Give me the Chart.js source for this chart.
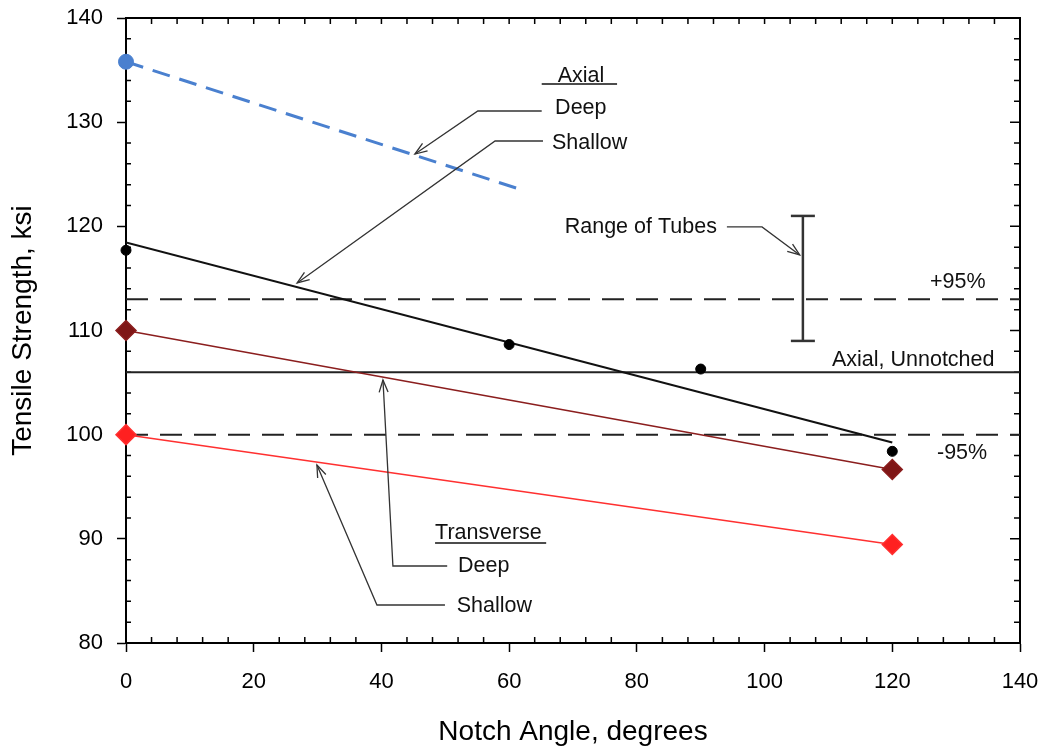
<!DOCTYPE html>
<html>
<head>
<meta charset="utf-8">
<script src="https://cdn.jsdelivr.net/npm/chart.js@4.4.1/dist/chart.umd.min.js"></script>
<style>
  html, body { margin: 0; padding: 0; background: #fff; }
  #wrap { width: 1047px; height: 750px; }
</style>
</head>
<body>
<div id="wrap"><canvas id="notchChart" width="1047" height="750"></canvas></div>
<script>
// Values (notch angle in degrees, strength in ksi).
const axialDeepAngle = [0];
const axialDeepStrength = [135.8];
const axialDeepFitAngle = [0, 62.5];
const axialDeepFitStrength = [135.8, 123.4];

const axialShallowAngle = [0, 60, 90, 120];
const axialShallowStrength = [117.7, 108.65, 106.3, 98.4];
const axialShallowFitAngle = [0, 120];
const axialShallowFitStrength = [118.45, 99.25];

const transDeepAngle = [0, 120];
const transDeepStrength = [110, 96.65];
const transShallowAngle = [0, 120];
const transShallowStrength = [100, 89.45];

const refSpan = [0, 140];
const upper95 = 113;
const unnotched = 106;
const lower95 = 100;

const tubeAngle = 106;
const tubeRange = [109, 121];

const xRange = [0, 140];
const yRange = [80, 140];
const xStep = 20;
const yStep = 10;

// Callout text and leader lines, in data units.
const notes = [
  { text: 'Axial', x: 71.25, y: 134.43, align: 'center', underline: [65.1, 76.9, 133.66] },
  { text: 'Deep', x: 67.2, y: 131.36, align: 'left' },
  { text: 'Shallow', x: 66.7, y: 128.0, align: 'left' },
  { text: 'Range of Tubes', x: 68.7, y: 119.94, align: 'left' },
  { text: '+95%', x: 125.9, y: 114.66, align: 'left' },
  { text: 'Axial, Unnotched', x: 110.55, y: 107.17, align: 'left' },
  { text: '-95%', x: 127.0, y: 98.24, align: 'left' },
  { text: 'Transverse', x: 48.4, y: 90.56, align: 'left', underline: [48.4, 65.8, 89.6] },
  { text: 'Deep', x: 52.0, y: 87.39, align: 'left' },
  { text: 'Shallow', x: 51.8, y: 83.55, align: 'left' },
];
const leaders = [
  [[65.1, 131.07], [55.1, 131.07], [45.25, 126.94]],
  [[65.3, 128.19], [57.8, 128.19], [26.8, 114.56]],
  [[94.1, 119.94], [99.6, 119.94], [105.5, 117.25]],
  [[50.3, 87.39], [41.8, 87.39], [40.24, 105.25]],
  [[49.95, 83.65], [39.3, 83.65], [29.9, 97.09]],
];

const zip = (xs, ys) => xs.map((x, i) => ({ x, y: ys[i] }));
const flat = (xs, v) => xs.map(x => ({ x, y: v }));

const FONT = '"Liberation Sans", Arial, Helvetica, sans-serif';

// frame on top/right plus the small inward minor ticks
const framePlugin = {
  id: 'frame',
  beforeDatasetsDraw(chart) {
    const { ctx, chartArea: a, scales: { x, y } } = chart;
    ctx.save();
    ctx.strokeStyle = '#000';
    ctx.lineWidth = 2;
    ctx.beginPath();
    ctx.moveTo(a.left, a.top); ctx.lineTo(a.right, a.top); ctx.lineTo(a.right, a.bottom);
    ctx.stroke();
    ctx.lineWidth = 1.5;
    ctx.beginPath();
    for (let v = xRange[0]; v <= xRange[1]; v += 4) {
      const px = x.getPixelForValue(v);
      const major = v % xStep === 0;
      ctx.moveTo(px, a.top); ctx.lineTo(px, a.top + 6);
      if (!major) { ctx.moveTo(px, a.bottom); ctx.lineTo(px, a.bottom - 6); }
    }
    for (let v = yRange[0]; v <= yRange[1]; v += 2) {
      const py = y.getPixelForValue(v);
      const major = v % yStep === 0;
      ctx.moveTo(a.right, py); ctx.lineTo(a.right - (major ? 10 : 6), py);
      if (!major) { ctx.moveTo(a.left, py); ctx.lineTo(a.left + 5, py); }
    }
    ctx.stroke();
    ctx.restore();
  },
};

// callout labels and arrows
const notesPlugin = {
  id: 'notes',
  afterDatasetsDraw(chart) {
    const { ctx, scales: { x, y } } = chart;
    const pt = p => [x.getPixelForValue(p[0]), y.getPixelForValue(p[1])];
    ctx.save();
    ctx.strokeStyle = '#333';
    ctx.lineWidth = 1.3;
    leaders.forEach(path => {
      const pts = path.map(pt);
      ctx.beginPath();
      ctx.moveTo(pts[0][0], pts[0][1]);
      pts.slice(1).forEach(p => ctx.lineTo(p[0], p[1]));
      ctx.stroke();
      const [tx, ty] = pts[pts.length - 1];
      const [fx, fy] = pts[pts.length - 2];
      const ang = Math.atan2(ty - fy, tx - fx);
      const len = 13, spread = 0.35;
      ctx.beginPath();
      ctx.moveTo(tx - len * Math.cos(ang - spread), ty - len * Math.sin(ang - spread));
      ctx.lineTo(tx, ty);
      ctx.lineTo(tx - len * Math.cos(ang + spread), ty - len * Math.sin(ang + spread));
      ctx.stroke();
    });
    ctx.fillStyle = '#111';
    ctx.font = '21.5px ' + FONT;
    ctx.textBaseline = 'middle';
    notes.forEach(n => {
      const [px, py] = pt([n.x, n.y]);
      ctx.textAlign = n.align;
      ctx.fillText(n.text, px, py);
      if (n.underline) {
        const [x0, uy] = pt([n.underline[0], n.underline[2]]);
        const [x1] = pt([n.underline[1], n.underline[2]]);
        ctx.lineWidth = 1.5;
        ctx.strokeStyle = '#111';
        ctx.beginPath(); ctx.moveTo(x0, uy); ctx.lineTo(x1, uy); ctx.stroke();
      }
    });
    ctx.restore();
  },
};

const dashedRef = { borderColor: '#222', borderWidth: 2, borderDash: [22, 12], pointRadius: 0, showLine: true };

new Chart(document.getElementById('notchChart').getContext('2d'), {
  type: 'scatter',
  data: {
    datasets: [
      { data: zip(axialDeepAngle, axialDeepStrength), pointRadius: 7.5, pointStyle: 'circle',
        backgroundColor: '#4a80cf', borderColor: '#4a80cf', clip: false },
      { data: zip(axialShallowAngle, axialShallowStrength), pointRadius: 5,
        backgroundColor: '#000', borderColor: '#000', clip: false },
      { data: zip(transDeepAngle, transDeepStrength), showLine: true, pointRadius: 10, pointStyle: 'rectRot',
        backgroundColor: '#7f1616', borderColor: '#8b1e1e', borderWidth: 1.5, clip: false },
      { data: zip(transShallowAngle, transShallowStrength), showLine: true, pointRadius: 10, pointStyle: 'rectRot',
        backgroundColor: '#ff2020', borderColor: '#ff3030', borderWidth: 1.5, clip: false },
      { data: zip(axialDeepFitAngle, axialDeepFitStrength), showLine: true, pointRadius: 0,
        borderColor: '#4a80cf', borderWidth: 3, borderDash: [18, 10] },
      { data: zip(axialShallowFitAngle, axialShallowFitStrength), showLine: true, pointRadius: 0,
        borderColor: '#111', borderWidth: 2.2 },
      { data: [{ x: tubeAngle, y: tubeRange[0] }, { x: tubeAngle, y: tubeRange[1] }], showLine: true,
        pointStyle: 'line', pointRadius: 12, borderColor: '#333', borderWidth: 2.5 },
      Object.assign({ data: flat(refSpan, upper95) }, dashedRef),
      Object.assign({ data: flat(refSpan, lower95) }, dashedRef),
      { data: flat(refSpan, unnotched), showLine: true, pointRadius: 0, borderColor: '#222', borderWidth: 2 },
    ],
  },
  options: {
    responsive: false,
    devicePixelRatio: 1,
    animation: false,
    events: [],
    layout: { padding: { top: 18, right: 27, left: 0, bottom: 0 } },
    plugins: { legend: { display: false }, tooltip: { enabled: false } },
    scales: {
      x: {
        type: 'linear', min: xRange[0], max: xRange[1],
        afterFit: s => { s.height = 107; s.paddingLeft = 0; s.paddingRight = 0; },
        border: { display: true, color: '#000', width: 2 },
        grid: { drawOnChartArea: false, drawTicks: true, tickLength: 9, tickColor: '#000', tickWidth: 1.5 },
        ticks: { stepSize: xStep, color: '#000', padding: 17, maxRotation: 0, font: { size: 22, family: FONT } },
        title: { display: true, text: 'Notch Angle, degrees', color: '#000',
          font: { size: 28, family: FONT }, padding: { top: 0, bottom: 1 } },
      },
      y: {
        type: 'linear', min: yRange[0], max: yRange[1],
        afterFit: s => { s.width = 126; s.paddingTop = 0; s.paddingBottom = 0; },
        border: { display: true, color: '#000', width: 2 },
        grid: { drawOnChartArea: false, drawTicks: true, tickLength: 9, tickColor: '#000', tickWidth: 1.5 },
        ticks: { stepSize: yStep, color: '#000', padding: 14, font: { size: 22, family: FONT } },
        title: { display: true, text: 'Tensile Strength, ksi', color: '#000',
          font: { size: 28, family: FONT }, padding: { top: 6, bottom: 0 } },
      },
    },
  },
  plugins: [framePlugin, notesPlugin],
});
</script>
</body>
</html>
